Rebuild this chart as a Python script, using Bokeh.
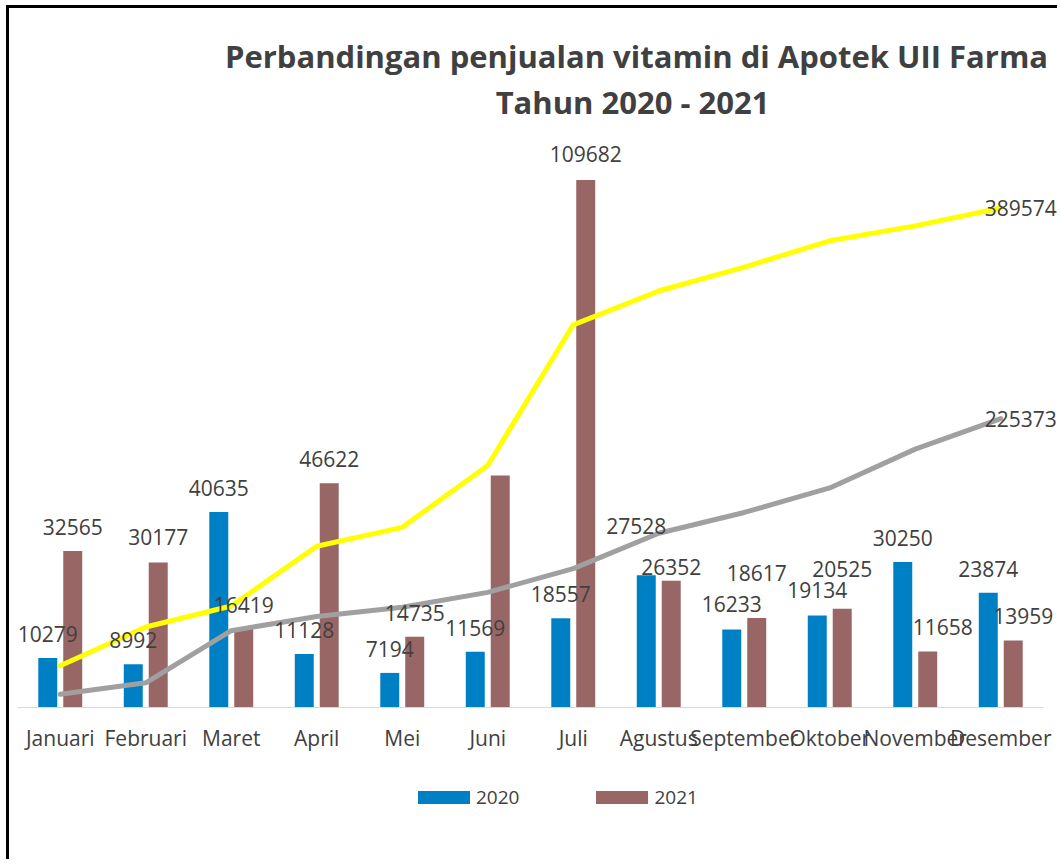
from bokeh.plotting import figure
from bokeh.models import ColumnDataSource, Range1d, Legend, LegendItem, FixedTicker
from bokeh.core.properties import value
from bokeh.embed import file_html
from bokeh.resources import INLINE

# ---------------- data ----------------
months = ["Januari", "Februari", "Maret", "April", "Mei", "Juni", "Juli",
          "Agustus", "September", "Oktober", "November", "Desember"]
sales_2020 = [10279, 8992, 40635, 11128, 7194, 11569, 18557, 27528, 16233, 19134, 30250, 23874]
sales_2021 = [32565, 30177, 16419, 46622, 14735, 48263, 109682, 26352, 18617, 20525, 11658, 13959]
cum_2020 = [10279, 19271, 59906, 71034, 78228, 89797, 108354, 135882, 152115, 171249, 201499, 225373]
cum_2021 = [32565, 62742, 79161, 125783, 140518, 188781, 298463, 324815, 343432, 363957, 375615, 389574]
labels_2020 = [str(v) for v in sales_2020]
labels_2021 = [str(v) for v in sales_2021]
labels_2021[5] = ""  # Juni 2021 label not shown in the original

title_1 = "Perbandingan penjualan vitamin di Apotek UII Farma"
title_2 = "Tahun 2020  - 2021"

# ---------------- layout constants ----------------
CAT_PX = 85.5            # pixels per category
LEFT_PAD = 8             # px between frame left and first category
FRAME_W = 1051
FRAME_H = 854
BASE = 699               # px from frame top to the zero line
PRIM_PER_PX = 120000 / 577.0
SEC_PER_PX = 450000 / 577.0
BW = 0.222               # bar width (category units)
OFF = 0.146              # bar offset from category centre

# category centres on a numeric axis (0.5, 1.5, ...)
xc = [i + 0.5 for i in range(len(months))]
x20 = [x - OFF for x in xc]
x21 = [x + OFF for x in xc]

# per-label nudges in px (label centre relative to bar top)
dx_2020 = [0, 0, 0, 0, 0, 0, 0, -10, 0, 0, 0, 0]
dy_2020 = [-24, -24, -24, -24, -24, -24, -24, -49, -25, -25, -24, -24]
dx_2021 = [0, 0, 0, 0, 0, 0, 0, 0, 0, 0, 15, 10]
dy_2021 = [-24, -25, -24, -24, -24, -24, -26, -14, -45, -40, -24, -24]

src = ColumnDataSource(dict(xc=xc, x20=x20, x21=x21, v20=sales_2020, v21=sales_2021,
                            c20=cum_2020, c21=cum_2021,
                            t20=labels_2020, t21=labels_2021,
                            dx20=dx_2020, dy20=dy_2020, dx21=dx_2021, dy21=dy_2021))

x_start = -LEFT_PAD / CAT_PX
x_end = x_start + FRAME_W / CAT_PX
below = FRAME_H - BASE

p = figure(x_range=Range1d(x_start, x_end),
           y_range=Range1d(-below * PRIM_PER_PX, BASE * PRIM_PER_PX),
           frame_width=FRAME_W, frame_height=FRAME_H,
           output_backend="svg", toolbar_location=None,
           y_axis_location=None,
           min_border_left=0, min_border_right=0, min_border_top=0, min_border_bottom=0)
p.extra_y_ranges = {"cum": Range1d(-below * SEC_PER_PX, BASE * SEC_PER_PX)}
p.outline_line_color = None
p.xgrid.grid_line_color = None
p.ygrid.grid_line_color = None
p.background_fill_color = "white"
p.border_fill_color = "white"
p.styles = {"box-shadow": "-3px -3px 0 0 #000000",
            "margin-left": "9px", "margin-top": "8px"}

BLUE = "#0080C4"
BROWN = "#996666"
TXT = "#404040"

r20 = p.vbar(x="x20", top="v20", width=BW, source=src, fill_color=BLUE, line_color=None)
r21 = p.vbar(x="x21", top="v21", width=BW, source=src, fill_color=BROWN, line_color=None)

p.line(x="xc", y="c21", source=src, y_range_name="cum", line_color="#FFFF00",
       line_width=5, line_join="round", line_cap="round")
p.line(x="xc", y="c20", source=src, y_range_name="cum", line_color="#A0A0A0",
       line_width=5, line_join="round", line_cap="round")

lab = dict(text_font=value("Open Sans"), text_font_size="21px", text_color=TXT,
           text_align="center", text_baseline="middle")
p.text(x="x20", y="v20", text="t20", source=src, x_offset="dx20", y_offset="dy20", **lab)
p.text(x="x21", y="v21", text="t21", source=src, x_offset="dx21", y_offset="dy21", **lab)

end_src = ColumnDataSource(dict(x=[xc[-1], xc[-1]],
                                c=[cum_2021[-1], cum_2020[-1]],
                                t=[str(cum_2021[-1]), str(cum_2020[-1])]))
p.text(x="x", y="c", text="t", source=end_src, y_range_name="cum", x_offset=20, **lab)

# title (two centred lines)
title_src = ColumnDataSource(dict(x=[7.24, 7.24], y=[652 * PRIM_PER_PX, 606 * PRIM_PER_PX],
                                  t=[title_1, title_2]))
p.text(x="x", y="y", text="t", source=title_src, text_font=value("Open Sans"),
       text_font_style="bold", text_font_size="31px", text_color=TXT,
       text_align="center", text_baseline="middle")

ax = p.xaxis[0]
ax.fixed_location = 0
ax.bounds = (0, len(months))
ax.ticker = FixedTicker(ticks=xc)
ax.major_label_overrides = {x: m for x, m in zip(xc, months)}
ax.axis_line_color = "#D9D9D9"
ax.axis_line_width = 1
ax.major_tick_line_color = None
ax.minor_tick_line_color = None
ax.major_tick_out = 0
ax.major_tick_in = 0
ax.major_label_standoff = 16
ax.major_label_text_font = "Open Sans"
ax.major_label_text_font_size = "21px"
ax.major_label_text_color = TXT

legend = Legend(items=[LegendItem(label="2020", renderers=[r20]),
                       LegendItem(label="2021", renderers=[r21])],
                orientation="horizontal", location=(402, FRAME_H - 802),
                glyph_width=65, glyph_height=16, label_standoff=0, spacing=70,
                padding=0, margin=0, border_line_color=None, background_fill_alpha=0,
                label_text_font="Open Sans", label_text_font_size="19px",
                label_text_color=TXT)
p.add_layout(legend, "center")

open("out.html", "w").write(file_html(p, INLINE))
